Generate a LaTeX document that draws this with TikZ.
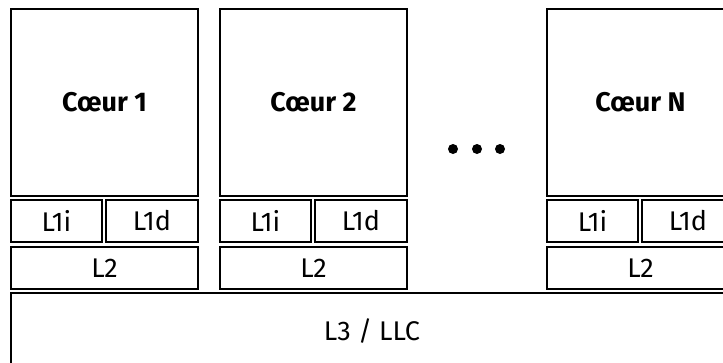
\documentclass[tikz,border=0pt]{standalone}
\usepackage{fontspec}
\setmainfont{Fira Sans}
\tikzset{
  box/.style={draw, line width=2pt, anchor=north west, inner sep=0pt, outer sep=0pt,
    font=\fontsize{27}{31}\selectfont},
  core/.style={box, minimum width=187pt, minimum height=187pt, font=\fontsize{27}{31}\selectfont\bfseries},
  lone/.style={box, minimum width=91pt, minimum height=42pt},
  ltwo/.style={box, minimum width=187pt, minimum height=42pt},
  dot/.style={circle, fill, inner sep=0pt, minimum size=10pt}
}
\begin{document}
\begin{tikzpicture}[x=1pt, y=1pt]
\clip (0,0) rectangle (723,-362);
\useasboundingbox (0,0) rectangle (723,-362);
% core 1
\node[core] (c1) at (11,-9) {Cœur 1};
\node[lone] (l1i1) at (11,-200) {L1i};
\node[lone, minimum width=92pt] (l1d1) at (106,-200) {L1d};
\node[ltwo] (l21) at (11,-247) {L2};
% core 2
\node[core] (c2) at (220,-9) {Cœur 2};
\node[lone] (l1i2) at (220,-200) {L1i};
\node[lone, minimum width=92pt] (l1d2) at (315,-200) {L1d};
\node[ltwo] (l22) at (220,-247) {L2};
% dots
\node[dot] (d1) at (453,-149) {};
\node[dot] (d2) at (477,-149) {};
\node[dot] (d3) at (500,-149) {};
% core N
\node[core] (cN) at (547,-9) {Cœur N};
\node[lone] (l1iN) at (547,-200) {L1i};
\node[lone, minimum width=92pt] (l1dN) at (642,-200) {L1d};
\node[ltwo] (l2N) at (547,-247) {L2};
% shared cache
\node[box, minimum width=722pt, minimum height=76pt] (l3) at (11,-293) {L3 / LLC};
\end{tikzpicture}
\end{document}
